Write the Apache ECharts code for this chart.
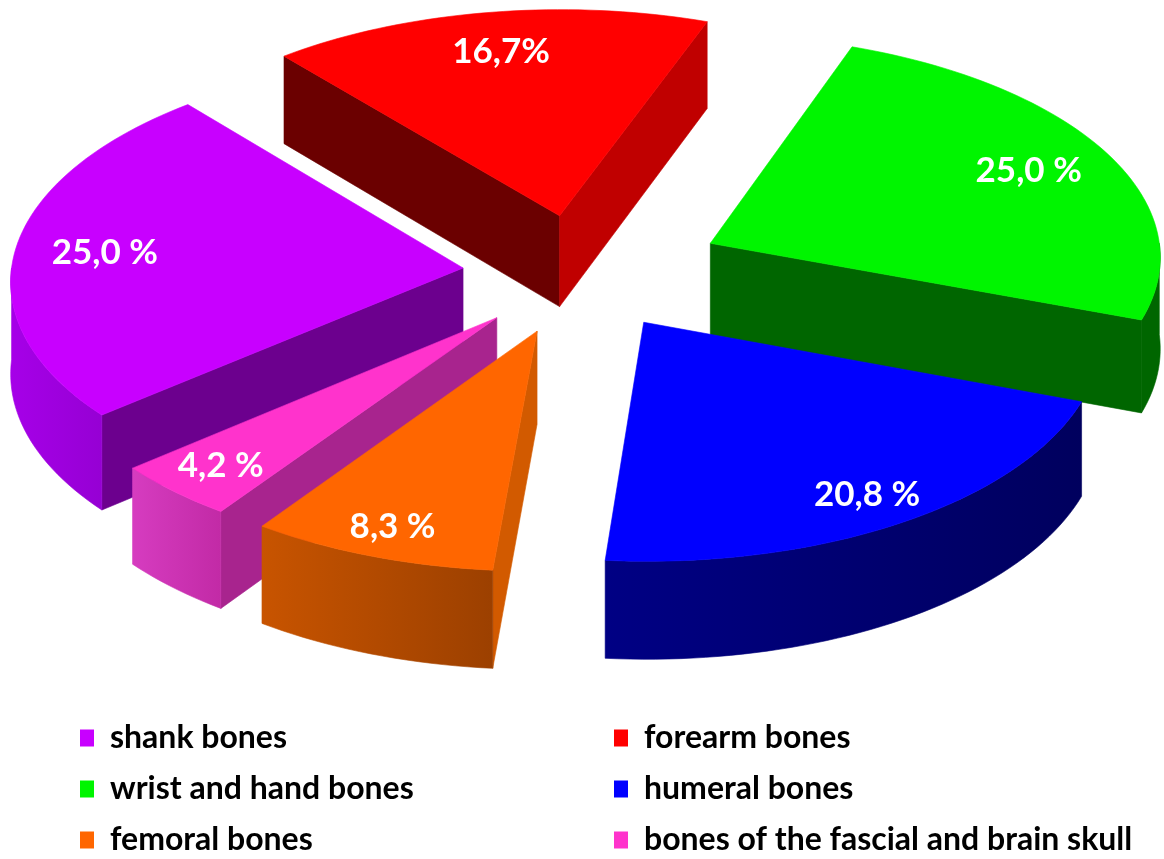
<!DOCTYPE html>
<html><head><meta charset="utf-8">
<script src="https://cdn.jsdelivr.net/npm/echarts@6/dist/echarts.min.js"></script>
<style>html,body{margin:0;padding:0;background:#fff}#c{width:1164px;height:859px}</style>
</head><body><div id="c"></div>
<script>
// ---- data ----
const categories = ['shank bones', 'forearm bones', 'wrist and hand bones', 'humeral bones', 'femoral bones', 'bones of the fascial and brain skull'];
const values = [25.0, 16.7, 25.0, 20.8, 8.3, 4.2];
const labelTexts = ['25,0 %', '16,7%', '25,0 %', '20,8 %', '8,3 %', '4,2 %'];
const legendLeft = ['shank bones', 'wrist and hand bones', 'femoral bones'];
const legendRight = ['forearm bones', 'humeral bones', 'bones of the fascial and brain skull'];

// ---- styles ----
const topColors = ['#C800FF', '#FF0000', '#00F500', '#0000FF', '#FF6600', '#FF33CC'];
const sideColors = [['#A600E8', '#9600D4'], ['#B00000', '#B00000'], ['#006600', '#006600'], ['#000084', '#00005E'], ['#C85400', '#9C4000'], ['#D63CC0', '#C22AA6']];
const startFaceColors = ['#6C008E', '#6B0000', '#006600', '#00007A', '#D25A00', '#A8248E'];
const endFaceColors = ['#6C008E', '#C00000', '#006600', '#00007A', '#D25A00', '#A8248E'];
const explode = [0.26, 0.265, 0.32, 0.26, 0.275, 0.27];

// ---- layout (pseudo-3D projection) ----
const CX = 580, CY = 273, R = 452, RK = 222, P = 0.05, T = 92, START = 140;
const total = values.reduce((s, v) => s + v, 0);
const rad = d => d * Math.PI / 180;

function proj(u, v, h) {
  const s = 1 / (1 - P * v);
  return [CX + R * u * s, CY + (RK * v + T * h) * s];
}
function slicePoint(ou, ov, ang, r, h) {
  return proj(ou + r * Math.cos(rad(ang)), ov + r * Math.sin(rad(ang)), h);
}
function arc(ou, ov, a, b, h) {
  const pts = [];
  const n = Math.max(2, Math.ceil(Math.abs(b - a) / 1.5));
  for (let k = 0; k <= n; k++) pts.push(slicePoint(ou, ov, a + (b - a) * k / n, 1, h));
  return pts;
}
function angles(i, val) {
  let acc = 0;
  for (let j = 0; j < i; j++) acc += values[j];
  const a = START + acc / total * 360;
  return [a, a + val / total * 360];
}

function makeRender(i) {
  return function (params, api) {
    const [a, b] = angles(i, api.value(0));
    const m = (a + b) / 2;
    const E = explode[i];
    const ou = E * Math.cos(rad(m)), ov = E * Math.sin(rad(m));
    const children = [];
    const vt = proj(ou, ov, 0), vb = proj(ou, ov, 1);
    if (Math.cos(rad(a)) < 0) {
      const c = startFaceColors[i];
      children.push({ type: 'polygon', shape: { points: [vt, slicePoint(ou, ov, a, 1, 0), slicePoint(ou, ov, a, 1, 1), vb] },
        style: { fill: c, stroke: c, lineWidth: 0.6 } });
    }
    if (Math.cos(rad(b)) > 0) {
      const c = endFaceColors[i];
      children.push({ type: 'polygon', shape: { points: [vt, slicePoint(ou, ov, b, 1, 0), slicePoint(ou, ov, b, 1, 1), vb] },
        style: { fill: c, stroke: c, lineWidth: 0.6 } });
    }
    for (let k = -1; k <= 1; k++) {
      const lo = Math.max(a, 360 * k), hi = Math.min(b, 360 * k + 180);
      if (hi > lo) {
        const pts = arc(ou, ov, lo, hi, 0).concat(arc(ou, ov, hi, lo, 1));
        const grad = { type: 'linear', x: 0, y: 0, x2: 1, y2: 0,
          colorStops: [{ offset: 0, color: sideColors[i][0] }, { offset: 1, color: sideColors[i][1] }] };
        children.push({ type: 'polygon', shape: { points: pts }, style: { fill: grad, stroke: grad, lineWidth: 0.6 } });
      }
    }
    const topPts = [vt].concat(arc(ou, ov, a, b, 0));
    children.push({ type: 'polygon', shape: { points: topPts }, style: { fill: topColors[i], stroke: topColors[i], lineWidth: 0.6 } });
    const lr = 0.8 + 0.08 * Math.max(0, Math.sin(rad(m)));
    const lp = slicePoint(ou, ov, m, lr, 0);
    children.push({ type: 'text', x: lp[0], y: lp[1],
      style: { text: labelTexts[i], fill: '#fff', font: 'bold 35px Lato, "Open Sans", sans-serif', align: 'center', verticalAlign: 'middle' } });
    return { type: 'group', children: children };
  };
}

const depth = values.map((v, i) => { const [a, b] = angles(i, v); return Math.sin(rad((a + b) / 2)); });
const order = depth.map((d, i) => i).sort((x, y) => depth[x] - depth[y]);

const series = order.map((i, rank) => ({
  type: 'custom',
  name: categories[i],
  coordinateSystem: 'none',
  z: 2 + rank,
  itemStyle: { color: topColors[i] },
  data: [{ name: categories[i], value: [values[i]] }],
  renderItem: makeRender(i),
  silent: true
}));

const legendCommon = {
  orient: 'vertical', top: 722, itemGap: 19, itemWidth: 14, itemHeight: 17, icon: 'rect',
  padding: 0, selectedMode: false,
  textStyle: { fontSize: 32, fontWeight: 'bold', fontFamily: 'Lato, "Open Sans", sans-serif', color: '#000', padding: [0, 0, 0, 11] }
};

const chart = echarts.init(document.getElementById('c'), null, { renderer: 'canvas' });
chart.setOption({
  backgroundColor: '#fff',
  animation: false,
  legend: [
    Object.assign({}, legendCommon, { left: 80, data: legendLeft }),
    Object.assign({}, legendCommon, { left: 614, data: legendRight })
  ],
  series: series
});
</script>
</body></html>
